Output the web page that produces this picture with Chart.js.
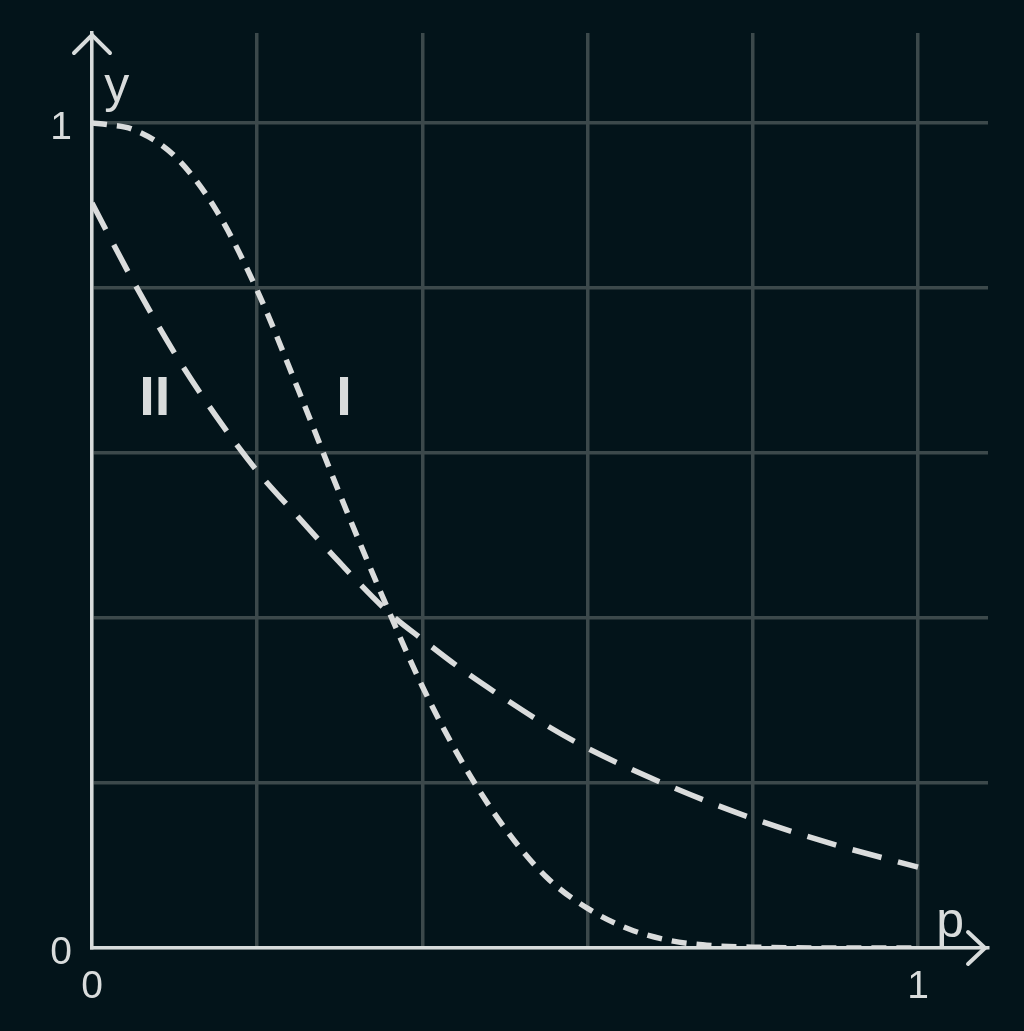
<!DOCTYPE html>
<html>
<head>
<meta charset="utf-8">
<script src="https://cdn.jsdelivr.net/npm/chart.js@4/dist/chart.umd.min.js"></script>
<style>
  html, body { margin: 0; padding: 0; background: #03141a; }
  #wrap { width: 1024px; height: 1031px; }
</style>
</head>
<body>
<div id="wrap"><canvas id="chart" width="1024" height="1031"></canvas></div>
<script>
// curve I (short dashes)
const pI = [0, 0.02, 0.05, 0.1, 0.15, 0.2, 0.25, 0.3, 0.35, 0.4, 0.45, 0.5, 0.55, 0.6, 0.65, 0.7,
            0.75, 0.8, 0.9, 1.0];
const yI = [1.0, 0.998, 0.992, 0.96, 0.895, 0.797, 0.676, 0.55, 0.43, 0.317, 0.222, 0.145, 0.086,
            0.048, 0.023, 0.009, 0.003, 0.001, 0, 0];

// curve II (long dashes)
const pII = [0, 0.05, 0.1, 0.15, 0.2, 0.25, 0.3, 0.36, 0.4, 0.45, 0.5, 0.55, 0.6, 0.7, 0.8, 0.9, 1.0];
const yII = [0.903, 0.808, 0.721, 0.645, 0.578, 0.522, 0.467, 0.406, 0.374, 0.336, 0.302, 0.27,
             0.242, 0.196, 0.157, 0.125, 0.098];

const gridSteps = [0, 0.2, 0.4, 0.6, 0.8, 1];
const tickLabels = { 0: '0', 1: '1' };

// text placed on the plot (in data units)
const curveLabels = [
  { text: 'y',  p: 0.030, y: 1.042, font: '50px "Liberation Sans", Arial, sans-serif' },
  { text: 'p',  p: 1.039, y: 0.030, font: '50px "Liberation Sans", Arial, sans-serif' },
  { text: 'II', p: 0.076, y: 0.665, font: 'bold 56px "Liberation Sans", Arial, sans-serif' },
  { text: 'I',  p: 0.305, y: 0.665, font: 'bold 56px "Liberation Sans", Arial, sans-serif' }
];

const textColor = '#d9dcdc';
const axisColor = '#d8dcdc';
const gridColor = '#3c494b';
const curveColor = '#dadcdc';

const toPoints = (xs, ys) => xs.map((x, i) => ({ x: x, y: ys[i] }));

const decorPlugin = {
  id: 'decor',
  afterDraw(chart) {
    const ctx = chart.ctx;
    const xs = chart.scales.x, ys = chart.scales.y;
    const area = chart.chartArea;
    ctx.save();
    // arrow heads
    ctx.strokeStyle = axisColor;
    ctx.lineWidth = 4;
    ctx.lineCap = 'round';
    const x0 = xs.getPixelForValue(0), y0 = ys.getPixelForValue(0);
    ctx.beginPath();
    ctx.moveTo(x0 - 18, area.top + 20);
    ctx.lineTo(x0, area.top + 2);
    ctx.lineTo(x0 + 18, area.top + 20);
    ctx.moveTo(area.right - 20, y0 - 16);
    ctx.lineTo(area.right - 3, y0);
    ctx.lineTo(area.right - 20, y0 + 16);
    ctx.stroke();
    // labels
    ctx.fillStyle = textColor;
    ctx.textAlign = 'center';
    ctx.textBaseline = 'middle';
    curveLabels.forEach(l => {
      ctx.font = l.font;
      ctx.fillText(l.text, xs.getPixelForValue(l.p), ys.getPixelForValue(l.y));
    });
    ctx.restore();
  }
};

new Chart(document.getElementById('chart'), {
  type: 'line',
  data: {
    datasets: [
      {
        label: 'I',
        data: toPoints(pI, yI),
        borderColor: curveColor,
        borderWidth: 5.5,
        borderDash: [15, 10],
        pointRadius: 0,
        cubicInterpolationMode: 'monotone',
        fill: false
      },
      {
        label: 'II',
        data: toPoints(pII, yII),
        borderColor: curveColor,
        borderWidth: 5.5,
        borderDash: [30, 17],
        pointRadius: 0,
        cubicInterpolationMode: 'monotone',
        fill: false
      }
    ]
  },
  options: {
    responsive: false,
    animation: false,
    devicePixelRatio: 1,
    layout: { padding: { top: 33, right: 36, left: 0, bottom: 0 } },
    plugins: {
      legend: { display: false },
      tooltip: { enabled: false }
    },
    scales: {
      x: {
        type: 'linear',
        min: 0,
        max: 1.0847,
        afterBuildTicks: s => { s.ticks = gridSteps.map(v => ({ value: v })); },
        afterFit: s => { s.height = 83; s.paddingLeft = 0; s.paddingRight = 0; },
        grid: { color: gridColor, lineWidth: 3.5, drawTicks: false },
        border: { display: true, color: axisColor, width: 3.5 },
        ticks: {
          padding: 16,
          maxRotation: 0,
          autoSkip: false,
          color: textColor,
          font: { family: '"Liberation Sans", Arial, sans-serif', size: 39 },
          callback: v => tickLabels[v] ?? ''
        }
      },
      y: {
        type: 'linear',
        min: 0,
        max: 1.1091,
        afterBuildTicks: s => { s.ticks = gridSteps.map(v => ({ value: v })); },
        afterFit: s => { s.width = 92; s.paddingTop = 0; s.paddingBottom = 0; },
        grid: { color: gridColor, lineWidth: 3.5, drawTicks: false },
        border: { display: true, color: axisColor, width: 3.5 },
        ticks: {
          padding: 20,
          labelOffset: 5,
          autoSkip: false,
          color: textColor,
          font: { family: '"Liberation Sans", Arial, sans-serif', size: 39 },
          callback: v => tickLabels[v] ?? ''
        }
      }
    }
  },
  plugins: [decorPlugin]
});
</script>
</body>
</html>
